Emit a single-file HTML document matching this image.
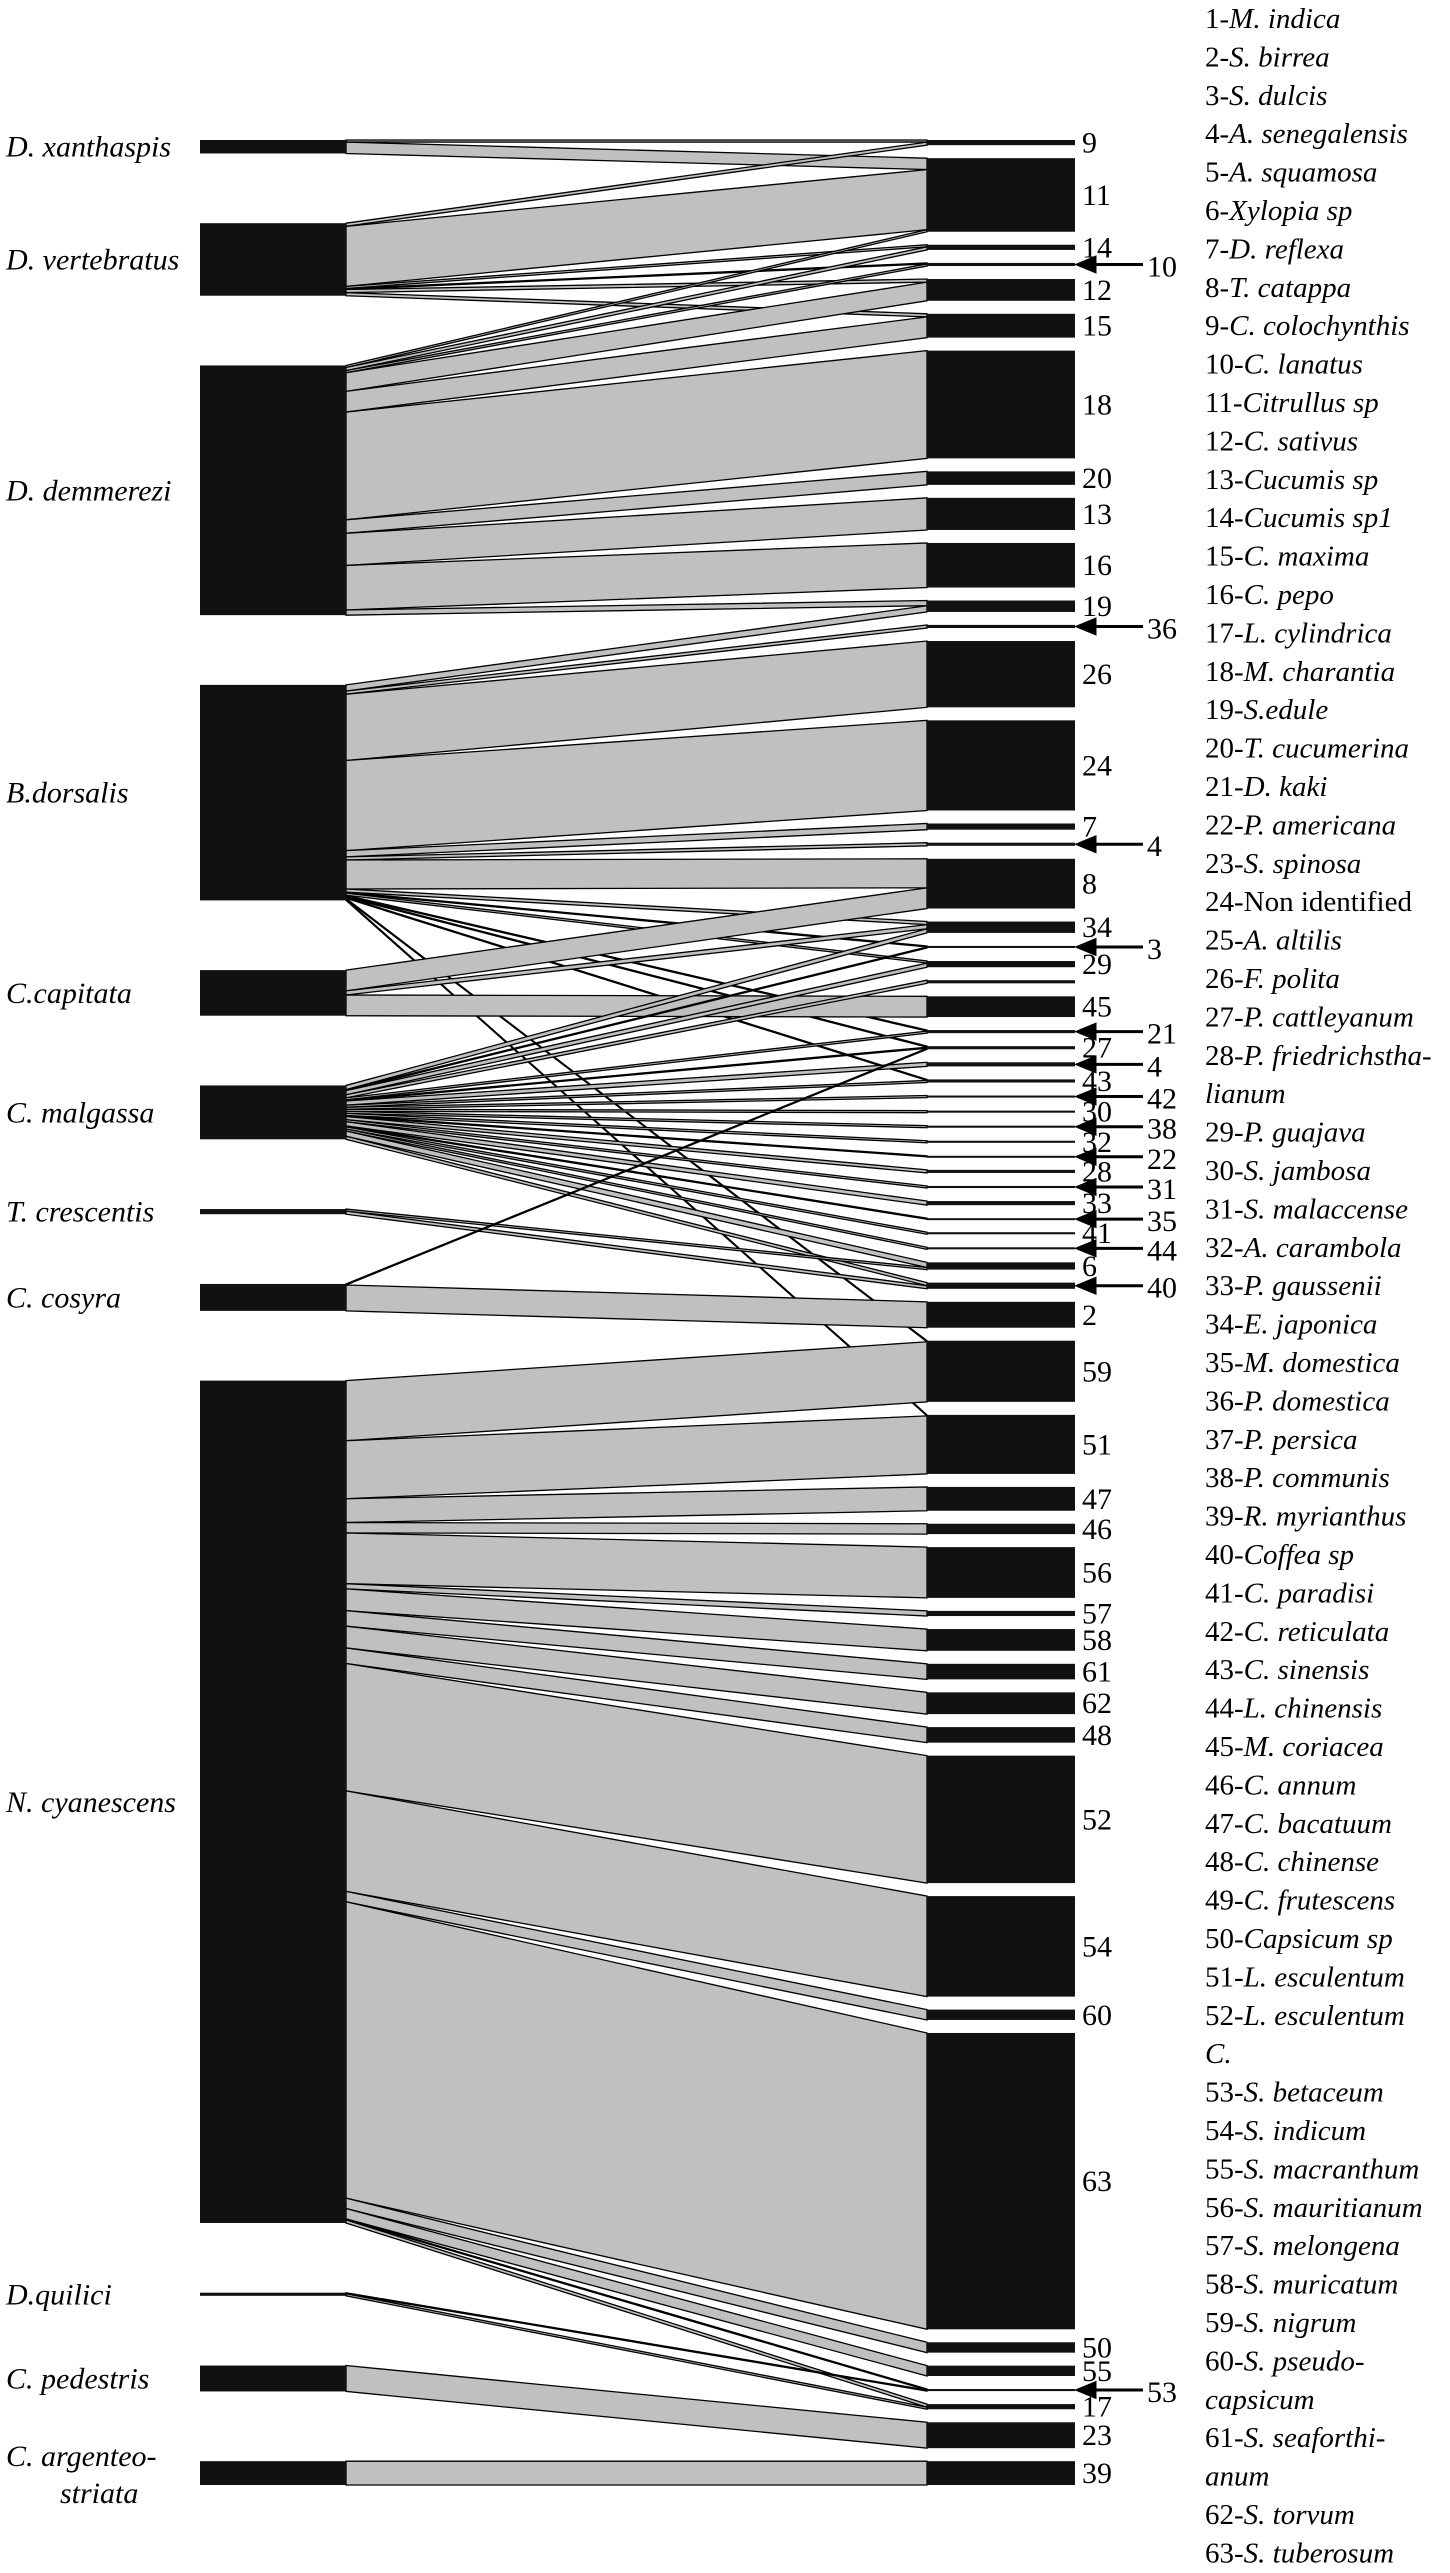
<!DOCTYPE html>
<html><head><meta charset="utf-8"><style>
body{margin:0;background:#fff}
svg{display:block;font-family:"Liberation Serif",serif}
</style></head><body>
<svg id="chart" width="1450" height="2573" viewBox="0 0 1450 2573" xmlns="http://www.w3.org/2000/svg">
<g id="links"></g>
<g id="nodes"></g>
<g id="labels" font-size="30"></g>
<g id="legend" font-size="29"></g>
</svg>
<script>
const leftNames=["D. xanthaspis","D. vertebratus","D. demmerezi","B.dorsalis","C.capitata","C. malgassa","T. crescentis","C. cosyra","N. cyanescens","D.quilici","C. pedestris","C. argenteo-|striata"];
const rightNames=["9","11","14","10","12","15","18","20","13","16","19","36","26","24","7","4","8","34","3","29","","45","21","27","4","43","42","30","38","32","22","28","31","33","35","41","44","6","40","2","59","51","47","46","56","57","58","61","62","48","52","54","60","63","50","55","53","17","23","39"];
const arrowIdx=[3,11,15,18,22,24,26,28,30,32,34,36,38,56];
const linkSource=[0,0, 1,1,1,1,1,1, 2,2,2,2,2,2,2,2,2,2,
 3,3,3,3,3,3,3,3,3,3,3,3,3,3,3,
 4,4,4,
 5,5,5,5,5,5,5,5,5,5,5,5,5,5,5,5,5,5,5,5,5,
 6,6, 7,7,
 8,8,8,8,8,8,8,8,8,8,8,8,8,8,8,8,8,8,
 9,9, 10, 11];
const linkTarget=[0,1, 0,1,2,3,4,5, 1,2,3,4,5,6,7,8,9,10,
 10,11,12,13,14,15,16,17,18,19,22,23,25,40,41,
 16,17,21,
 17,18,19,20,22,23,24,25,26,27,28,29,30,31,32,33,34,35,36,37,38,
 37,38, 39,23,
 40,41,42,43,44,45,46,47,48,49,50,51,52,53,54,55,56,57,
 56,57, 58, 59];
const linkValue=[2,11, 3,58,2,1,3,3, 2,3,2,18,20,104,13,31,43,5,
 6,3,64,87,6,3,28,3,1,2,1,1,1,1,1,
 20,4,20,
 4,1,4,3,2,1,4,2,2,2,2,2,1,3,2,4,1,2,2,5,3,
 2,3, 25,1,
 58,56,23,10,49,5,21,15,21,15,123,97,10,286,10,10,1,3,
 1,2, 25, 23];
const legendLines=[["1-","M. indica"],["2-","S. birrea"],["3-","S. dulcis"],["4-","A. senegalensis"],["5-","A. squamosa"],["6-","Xylopia sp"],["7-","D. reflexa"],["8-","T. catappa"],["9-","C. colochynthis"],["10-","C. lanatus"],["11-","Citrullus sp"],["12-","C. sativus"],["13-","Cucumis sp"],["14-","Cucumis sp1"],["15-","C. maxima"],["16-","C. pepo"],["17-","L. cylindrica"],["18-","M. charantia"],["19-","S.edule"],["20-","T. cucumerina"],["21-","D. kaki"],["22-","P. americana"],["23-","S. spinosa"],["24-Non identified",""],["25-","A. altilis"],["26-","F. polita"],["27-","P. cattleyanum"],["28-","P. friedrichstha-"],["","lianum"],["29-","P. guajava"],["30-","S. jambosa"],["31-","S. malaccense"],["32-","A. carambola"],["33-","P. gaussenii"],["34-","E. japonica"],["35-","M. domestica"],["36-","P. domestica"],["37-","P. persica"],["38-","P. communis"],["39-","R. myrianthus"],["40-","Coffea sp"],["41-","C. paradisi"],["42-","C. reticulata"],["43-","C. sinensis"],["44-","L. chinensis"],["45-","M. coriacea"],["46-","C. annum"],["47-","C. bacatuum"],["48-","C. chinense"],["49-","C. frutescens"],["50-","Capsicum sp"],["51-","L. esculentum"],["52-","L. esculentum"],["","C."],["53-","S. betaceum"],["54-","S. indicum"],["55-","S. macranthum"],["56-","S. mauritianum"],["57-","S. melongena"],["58-","S. muricatum"],["59-","S. nigrum"],["60-","S. pseudo-"],["","capsicum"],["61-","S. seaforthi-"],["","anum"],["62-","S. torvum"],["63-","S. tuberosum"]];

const NS="http://www.w3.org/2000/svg";
const top0=140, span=2345, rGap=13, xL0=200, xL1=346, xR0=927, xR1=1075;
const nL=leftNames.length, nR=rightNames.length;
const lSum=new Array(nL).fill(0), rSum=new Array(nR).fill(0);
linkValue.forEach((v,i)=>{lSum[linkSource[i]]+=v;rSum[linkTarget[i]]+=v;});
const total=lSum.reduce((a,b)=>a+b,0);
const k=(span-(nR-1)*rGap)/total;
const lGap=(span-total*k)/(nL-1);
const lY=[],rY=[];
let y=top0;for(let i=0;i<nL;i++){lY.push(y);y+=lSum[i]*k+lGap;}
y=top0;for(let i=0;i<nR;i++){rY.push(y);y+=rSum[i]*k+rGap;}
function el(t,a){const e=document.createElementNS(NS,t);for(const n in a)e.setAttribute(n,a[n]);return e;}
const order=linkValue.map((v,i)=>i);
const lOff=lY.slice(), rOff=rY.slice(), ly=[], ry=[];
order.slice().sort((a,b)=>linkSource[a]-linkSource[b]||linkTarget[a]-linkTarget[b]).forEach(i=>{ly[i]=lOff[linkSource[i]];lOff[linkSource[i]]+=linkValue[i]*k;});
order.slice().sort((a,b)=>linkTarget[a]-linkTarget[b]||linkSource[a]-linkSource[b]).forEach(i=>{ry[i]=rOff[linkTarget[i]];rOff[linkTarget[i]]+=linkValue[i]*k;});
const gL=document.getElementById('links');
order.forEach(i=>{
 const h=linkValue[i]*k;
 const p=el('polygon',{points:`${xL1},${ly[i]} ${xR0},${ry[i]} ${xR0},${ry[i]+h} ${xL1},${ly[i]+h}`,fill:'#c0c0c0',stroke:'#000','stroke-width':1.3});
 
 
 gL.appendChild(p);
});
const gN=document.getElementById('nodes'), gT=document.getElementById('labels');
for(let i=0;i<nL;i++){
 const h=Math.max(lSum[i]*k,2);
 const r=el('rect',{x:xL0,y:lY[i],width:xL1-xL0,height:h,fill:'#111'});
 
 
 gN.appendChild(r);
 const parts=leftNames[i].split('|');const c=lY[i]+h/2;
 parts.forEach((s,j)=>{
  const t=el('text',{x:j?60:6,y:c+10+(parts.length>1?(j?20:-17):0),'font-style':'italic'});
  t.textContent=s;
  
  
  gT.appendChild(t);
 });
}
for(let i=0;i<nR;i++){
 const h=Math.max(rSum[i]*k,2);
 const r=el('rect',{x:xR0,y:rY[i],width:xR1-xR0,height:h,fill:'#111'});
 
 
 gN.appendChild(r);
 const c=rY[i]+h/2;
 if(!rightNames[i])continue;
 if(arrowIdx.indexOf(i)>=0){
  const a=el('path',{d:`M${xR1+3},${c} L${xR1+20},${c-7} L${xR1+20},${c+7} Z M${xR1+18},${c} L1143,${c}`,fill:'#000',stroke:'#000','stroke-width':3});
  
  
  gT.appendChild(a);
  const t=el('text',{x:1147,y:c+12});t.textContent=rightNames[i];
  
  
  gT.appendChild(t);
 }else{
  const t=el('text',{x:1082,y:c+10});t.textContent=rightNames[i];
  
  
  gT.appendChild(t);
 }
}
const gLg=document.getElementById('legend');
legendLines.forEach((l,i)=>{
 const t=el('text',{x:1205,y:18+i*38.4+10});
 const a=document.createElementNS(NS,'tspan');a.textContent=l[0];t.appendChild(a);
 const b=document.createElementNS(NS,'tspan');b.setAttribute('font-style','italic');b.textContent=l[1];t.appendChild(b);
 
 
 gLg.appendChild(t);
});
</script>
</body></html>
